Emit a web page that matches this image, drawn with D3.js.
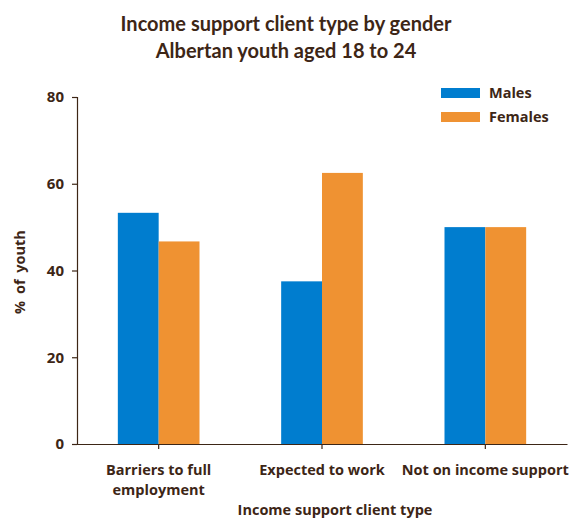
<!DOCTYPE html>
<html>
<head>
<meta charset="utf-8">
<script src="https://cdn.jsdelivr.net/npm/d3@7"></script>
<style>
  body { margin: 0; background: #fff; }
  text { font-family: "Open Sans", Lato, sans-serif; font-weight: bold; fill: #3d2616; }
  text.title { font-family: Lato, "Open Sans", sans-serif; }
</style>
</head>
<body>
<svg id="chart" width="580" height="519"></svg>
<script>
const categories = [["Barriers to full", "employment"], ["Expected to work"], ["Not on income support"]];
const seriesNames = ["Males", "Females"];
const males = [53.3, 37.5, 50.0];
const females = [46.7, 62.5, 50.0];
const yTicks = [0, 20, 40, 60, 80];
const colors = ["#007dcf", "#ef9232"];

const svg = d3.select("#chart");
const ink = "#3d2616";
const margin = { left: 77, right: 13, top: 97, bottom: 75 };
const W = 580, H = 519;

const x = d3.scaleBand().domain(d3.range(categories.length))
  .range([margin.left, W - margin.right]).paddingInner(0).paddingOuter(0);
const barW = x.bandwidth() * 0.25;
const y = d3.scaleLinear().domain([0, 80]).range([H - margin.bottom, margin.top]);

// Title
svg.append("text").attr("class", "title").attr("x", 286).attr("y", 31).attr("text-anchor", "middle")
  .style("font-size", "20px").text("Income support client type by gender");
svg.append("text").attr("class", "title").attr("x", 286).attr("y", 58).attr("text-anchor", "middle")
  .style("font-size", "20px").text("Albertan youth aged 18 to 24");

// Bars
const series = [males, females];
series.forEach((vals, s) => {
  svg.append("g").selectAll("rect").data(vals).join("rect")
    .attr("x", (d, i) => x(i) + x.bandwidth() / 2 + (s - 1) * barW)
    .attr("y", d => y(d))
    .attr("width", barW)
    .attr("height", d => y(0) - y(d))
    .attr("fill", colors[s]);
});

// Y axis
const yAxis = svg.append("g").attr("transform", `translate(${margin.left},0)`)
  .call(d3.axisLeft(y).tickValues(yTicks).tickSize(5).tickPadding(8));
yAxis.select(".domain").attr("stroke", ink).attr("stroke-width", 1.2);
yAxis.selectAll(".tick line").attr("stroke", ink).attr("stroke-width", 1.2);
yAxis.selectAll(".tick text").style("font-size", "15px").attr("fill", ink)
  .style("font-family", "'Open Sans', sans-serif").style("font-weight", "bold");

// X axis
const xAxis = svg.append("g").attr("transform", `translate(0,${y(0)})`)
  .call(d3.axisBottom(x).tickSize(5).tickSizeOuter(0).tickFormat(""));
xAxis.select(".domain").attr("stroke", ink).attr("stroke-width", 1.2);
xAxis.selectAll(".tick line").attr("stroke", ink).attr("stroke-width", 1.2);

// Category labels
categories.forEach((lines, i) => {
  const t = svg.append("text").attr("text-anchor", "middle")
    .attr("x", x(i) + x.bandwidth() / 2).attr("y", 475).style("font-size", "14.5px");
  lines.forEach((ln, k) => t.append("tspan").attr("x", x(i) + x.bandwidth() / 2)
    .attr("dy", k === 0 ? 0 : 20).text(ln));
});

// Axis titles
svg.append("text").attr("x", 335).attr("y", 515).attr("text-anchor", "middle")
  .style("font-size", "14.5px").text("Income support client type");
svg.append("text").attr("transform", "translate(25,272) rotate(-90)")
  .attr("text-anchor", "middle").style("font-size", "14.5px").style("word-spacing", "3px")
  .text("% of youth");

// Legend
const legend = svg.append("g");
seriesNames.forEach((name, s) => {
  legend.append("rect").attr("x", 441).attr("y", 88 + s * 24)
    .attr("width", 39).attr("height", 10).attr("fill", colors[s]);
  legend.append("text").attr("x", 489).attr("y", 98 + s * 24)
    .style("font-size", "14.5px").text(name);
});
</script>
</body>
</html>
